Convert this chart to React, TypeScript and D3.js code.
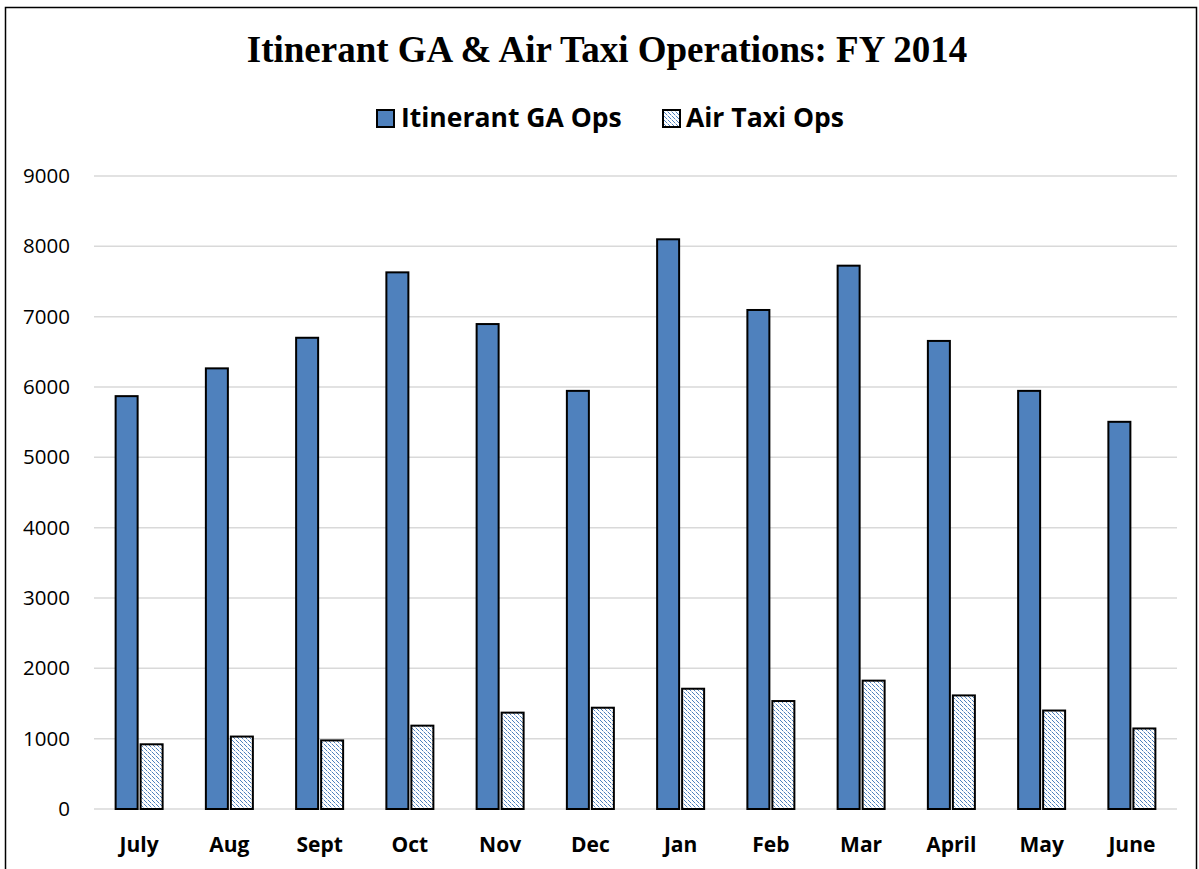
import React from 'react';
import * as d3 from 'd3';

const months = ['July', 'Aug', 'Sept', 'Oct', 'Nov', 'Dec', 'Jan', 'Feb', 'Mar', 'April', 'May', 'June'];
const gaOps = [5870, 6265, 6700, 7630, 6895, 5945, 8100, 7095, 7725, 6655, 5945, 5505];
const taxiOps = [920, 1030, 975, 1185, 1370, 1440, 1710, 1535, 1825, 1615, 1400, 1145];
const yTicks = [0, 1000, 2000, 3000, 4000, 5000, 6000, 7000, 8000, 9000];

const W = 1199;
const H = 869;
const blue = '#4F81BD';

export default function App() {
  // plot area
  const x = d3.scaleBand().domain(months).range([94, 1177]).paddingInner(0).paddingOuter(0);
  const y = d3.scaleLinear().domain([0, 9000]).range([809, 176]);

  const bw = 22;
  const gap = 3;
  const sans = 'Open Sans, Noto Sans, sans-serif';

  return (
    <svg width={W} height={H} style={{ position: 'absolute', left: 0, top: 0 }}>
      <defs>
        <pattern id="hatch" width="4" height="4" patternUnits="userSpaceOnUse">
          <rect width="4" height="4" fill="#fff" />
          <rect x="0" y="0" width="1" height="1" fill={blue} />
          <rect x="1" y="1" width="1" height="1" fill={blue} />
          <rect x="2" y="2" width="1" height="1" fill={blue} />
          <rect x="3" y="3" width="1" height="1" fill={blue} opacity="0.4" />
        </pattern>
      </defs>
      <rect x={0} y={0} width={W} height={H} fill="#fff" />
      <rect x={5.5} y={7.5} width={1191} height={880} fill="none" stroke="#000" strokeWidth={1.5} />

      <text x={607} y={62} textAnchor="middle" fontFamily="Liberation Serif, Times New Roman, serif" fontWeight="bold" fontSize={37}>
        Itinerant GA &amp; Air Taxi Operations: FY 2014
      </text>

      {/* legend */}
      <rect x={377} y={110} width={17} height={17} fill={blue} stroke="#000" strokeWidth={2} />
      <text x={401} y={127} fontFamily={sans} fontWeight="bold" fontSize={26.5}>Itinerant GA Ops</text>
      <rect x={663} y={110} width={17} height={17} fill="url(#hatch)" stroke="#000" strokeWidth={2} />
      <text x={686} y={127} fontFamily={sans} fontWeight="bold" fontSize={26.5}>Air Taxi Ops</text>

      {/* gridlines */}
      {yTicks.map((t) => (
        <g key={t}>
          <line x1={94} x2={1177} y1={y(t)} y2={y(t)} stroke="#d9d9d9" strokeWidth={1.5} />
          <text x={70} y={y(t) + 7} textAnchor="end" fontFamily={sans} fontSize={20.5}>{t}</text>
        </g>
      ))}

      {/* bars */}
      {months.map((m, i) => {
        const c = (x(m) as number) + x.bandwidth() / 2;
        return (
          <g key={m}>
            <rect x={c - bw - gap / 2} y={y(gaOps[i])} width={bw} height={y(0) - y(gaOps[i])}
              fill={blue} stroke="#000" strokeWidth={2} />
            <rect x={c + gap / 2} y={y(taxiOps[i])} width={bw} height={y(0) - y(taxiOps[i])}
              fill="url(#hatch)" stroke="#000" strokeWidth={2} />
            <text x={c} y={852} textAnchor="middle" fontFamily={sans} fontWeight="bold" fontSize={21}>{m}</text>
          </g>
        );
      })}
    </svg>
  );
}
